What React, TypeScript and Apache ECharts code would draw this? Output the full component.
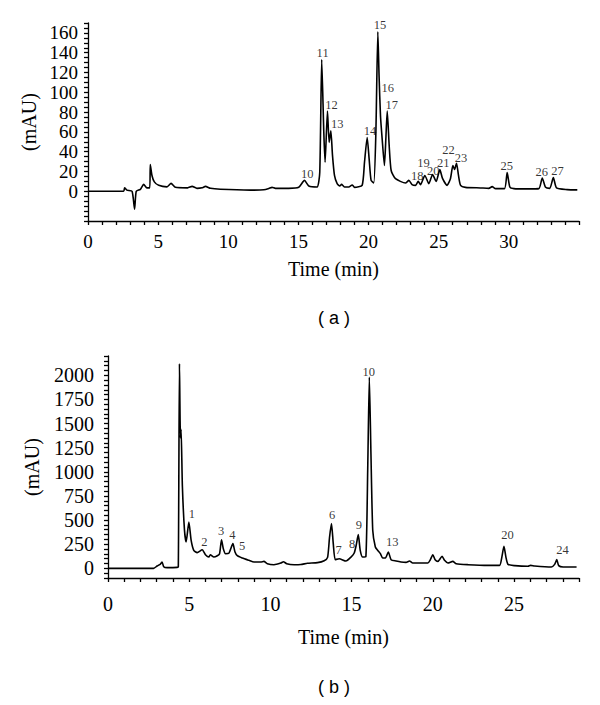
import React, { useEffect, useRef } from "react";
import * as echarts from "echarts";

// Chromatogram (a): [time (min), signal (mAU)]
const traceA: [number, number][] = [
  [0, 0], [2.54, 0], [2.61, 3.5], [2.77, 1.2], [3.14, 0], [3.32, -18], [3.44, 0], [3.73, 2], [3.97, 7],
  [4.2, 3.5], [4.4, 3.5], [4.44, 27], [4.56, 16], [4.73, 9.5], [5.04, 6], [5.63, 4.5], [5.92, 8], [6.23, 4],
  [7.1, 3.5], [7.42, 5], [7.77, 3], [8.13, 3.5], [8.37, 5], [8.73, 3], [9.44, 2], [11.58, 1.2], [12.53, 1.5],
  [12.89, 2.8], [13.12, 4], [13.36, 3], [14.3, 3], [15.02, 4], [15.43, 11], [15.74, 5.4], [16.33, 4.4],
  [16.52, 19], [16.66, 133], [16.81, 59], [16.9, 29.4], [17.07, 81], [17.19, 49.4], [17.31, 61], [17.43, 36],
  [17.57, 16], [17.76, 7.7], [17.95, 5.4], [18.07, 7], [18.28, 4.4], [18.59, 4.4], [18.83, 6.4], [19.0, 4],
  [19.54, 6], [19.71, 29.4], [19.9, 54.4], [20.04, 32.7], [20.18, 11], [20.37, 8.4], [20.52, 59], [20.66, 161],
  [20.75, 116], [20.85, 76], [20.97, 52.7], [21.13, 26], [21.23, 52.7], [21.33, 81], [21.47, 46], [21.61, 21],
  [21.92, 12.7], [22.63, 8.4], [22.87, 11], [23.1, 6.7], [23.35, 6], [23.54, 10], [23.7, 6.7], [24.01, 16],
  [24.3, 7.7], [24.56, 17], [24.82, 10], [25.08, 22], [25.27, 13], [25.6, 6], [25.84, 13], [26.01, 26],
  [26.13, 22], [26.27, 28.4], [26.41, 16], [26.56, 6], [26.91, 4], [27.98, 3.4], [28.57, 3], [28.81, 4.7],
  [29.05, 2.7], [29.69, 2.7], [29.88, 19], [30.07, 4.4], [30.36, 2.7], [31.31, 2.4], [32.14, 2.7], [32.38, 13.4],
  [32.62, 4], [32.92, 3], [33.17, 14], [33.4, 3.4], [34.16, 1.7], [34.88, 1.4],
];

// Chromatogram (b): [time (min), signal (mAU)]
const traceB: [number, number][] = [
  [0, 0], [2.81, 0], [3.02, 24], [3.23, 45], [3.33, 66], [3.43, 17], [3.64, 7], [4.26, 10], [4.33, 17],
  [4.4, 2120], [4.46, 1350], [4.5, 1440], [4.58, 850], [4.71, 393], [4.81, 273], [4.98, 480], [5.12, 290],
  [5.28, 187], [5.49, 163], [5.8, 193], [6.0, 141], [6.21, 117], [6.3, 141], [6.52, 117], [6.73, 131],
  [6.87, 152], [6.99, 297], [7.1, 204], [7.24, 152], [7.45, 159], [7.69, 256], [7.82, 169], [7.96, 131],
  [8.27, 107], [8.68, 83], [8.99, 66], [9.4, 66], [9.6, 72], [9.81, 48], [10.22, 38], [10.64, 55], [10.8, 69],
  [11.0, 48], [11.46, 38], [11.87, 40], [12.28, 52], [12.9, 59], [13.31, 79], [13.52, 114], [13.64, 321],
  [13.76, 463], [13.87, 256], [13.99, 90], [14.23, 100], [14.65, 76], [14.96, 117], [15.16, 159], [15.28, 238],
  [15.41, 349], [15.53, 187], [15.68, 117], [15.88, 124], [15.99, 1015], [16.09, 1983], [16.19, 1187],
  [16.3, 394], [16.46, 221], [16.6, 187], [16.77, 152], [16.91, 107], [17.08, 107], [17.26, 169], [17.43, 90],
  [17.74, 76], [18.04, 66], [18.35, 62], [18.56, 76], [18.76, 55], [19.69, 55], [19.85, 90], [20.0, 141],
  [20.14, 90], [20.31, 72], [20.57, 124], [20.72, 83], [20.93, 55], [21.23, 72], [21.44, 48], [22.16, 38],
  [23.4, 31], [24.11, 31], [24.25, 117], [24.38, 228], [24.5, 117], [24.63, 41], [25.04, 28], [25.86, 21],
  [26.02, 31], [26.27, 24], [27.3, 14], [27.5, 41], [27.63, 90], [27.75, 28], [28.02, 14], [28.85, 14],
];

// Peak labels: [label, time, value]
const peaksA: [string, number, number][] = [
  ["10", 15.66, 17], ["11", 16.76, 139], ["12", 17.4, 86.5], ["13", 17.8, 67.4], ["14", 20.14, 60.7],
  ["15", 20.85, 167], ["16", 21.4, 103.6], ["17", 21.68, 86.8], ["18", 23.5, 15], ["19", 23.95, 28.5],
  ["20", 24.65, 20.5], ["21", 25.36, 28.5], ["22", 25.74, 41], ["23", 26.62, 33.2], ["25", 29.88, 25.5],
  ["26", 32.38, 18.8], ["27", 33.5, 19.8],
];
const peaksB: [string, number, number][] = [
  ["1", 5.19, 560], ["2", 5.96, 265], ["3", 6.99, 379], ["4", 7.69, 345], ["5", 8.29, 224],
  ["6", 13.83, 552], ["7", 14.23, 190], ["8", 15.06, 249], ["9", 15.47, 449], ["10", 16.09, 2027],
  ["13", 17.53, 269], ["20", 24.63, 338], ["24", 28.02, 190],
];

const xLabelsA = [0, 5, 10, 15, 20, 25, 30];
const yLabelsA = [0, 20, 40, 60, 80, 100, 120, 140, 160];
const xLabelsB = [0, 5, 10, 15, 20, 25];
const yLabelsB = [0, 250, 500, 750, 1000, 1250, 1500, 1750, 2000];

const SERIF = "'Liberation Serif', 'Times New Roman', serif";
const SANS = "'Liberation Sans', Arial, sans-serif";

const lineStyle = { color: "#000", width: 1.3 };

function axis(
  gridIndex: number,
  min: number,
  max: number,
  interval: number,
  labels: number[],
  name: string,
  nameGap: number,
  labelMargin: number,
  labelSize: number
) {
  return {
    type: "value",
    gridIndex,
    min,
    max,
    interval,
    name,
    nameLocation: "middle",
    nameGap,
    nameTextStyle: { fontFamily: SERIF, fontSize: 20, color: "#000" },
    axisLine: { show: true, onZero: false, lineStyle },
    axisTick: { show: true, length: 4, lineStyle },
    splitLine: { show: false },
    axisLabel: {
      color: "#000",
      fontFamily: SERIF,
      fontSize: labelSize,
      margin: labelMargin,
      showMinLabel: true,
      showMaxLabel: true,
      formatter: (v: number) => (labels.includes(Math.round(v * 1000) / 1000) ? String(v) : ""),
    },
  };
}

function labelSeries(idx: number, peaks: [string, number, number][]) {
  return {
    type: "scatter",
    xAxisIndex: idx,
    yAxisIndex: idx,
    symbolSize: 1,
    colorBy: "series",
    itemStyle: { color: "rgba(255,255,255,0)" },
    silent: true,
    z: 5,
    data: peaks.map(([n, t, v]) => ({ name: n, value: [t, v] })),
    label: {
      show: true,
      position: [0, 0],
      align: "center",
      verticalAlign: "middle",
      color: "#000",
      fontFamily: SERIF,
      fontSize: 12.5,
      formatter: (p: any) => p.name,
    },
  };
}

export default function App() {
  const ref = useRef<HTMLDivElement>(null);
  useEffect(() => {
    const chart = echarts.init(ref.current!, null, { renderer: "svg" });
    chart.setOption({
      animation: false,
      backgroundColor: "#fff",
      grid: [
        { left: 88, top: 23, width: 491, height: 198 },
        { left: 108, top: 356, width: 471, height: 222 },
      ],
      xAxis: [
        axis(0, 0, 35, 1, xLabelsA, "Time (min)", 38, 11, 19),
        axis(1, 0, 29, 1, xLabelsB, "Time (min)", 49, 16, 20),
      ],
      yAxis: [
        axis(0, -30, 170, 5, yLabelsA, "(mAU)", 46, 10, 19),
        axis(1, -100, 2200, 50, yLabelsB, "(mAU)", 66, 14, 20),
      ],
      graphic: [
        {
          type: "text",
          x: 334,
          y: 318,
          style: { text: "( a )", fontFamily: SANS, fontSize: 18, fill: "#000", textAlign: "center", textVerticalAlign: "middle" },
        },
        {
          type: "text",
          x: 334,
          y: 687,
          style: { text: "( b )", fontFamily: SANS, fontSize: 18, fill: "#000", textAlign: "center", textVerticalAlign: "middle" },
        },
      ],
      series: [
        {
          type: "line",
          xAxisIndex: 0,
          yAxisIndex: 0,
          data: traceA,
          showSymbol: false,
          smooth: 0.2,
          lineStyle: { color: "#000", width: 1.6 },
          silent: true,
        },
        {
          type: "line",
          xAxisIndex: 1,
          yAxisIndex: 1,
          data: traceB,
          showSymbol: false,
          smooth: 0.2,
          lineStyle: { color: "#000", width: 1.6 },
          silent: true,
        },
        labelSeries(0, peaksA),
        labelSeries(1, peaksB),
      ],
    });
    return () => chart.dispose();
  }, []);
  return (
    <div
      ref={ref}
      style={{ position: "fixed", left: 0, top: 0, width: 600, height: 705, background: "#fff" }}
    />
  );
}
